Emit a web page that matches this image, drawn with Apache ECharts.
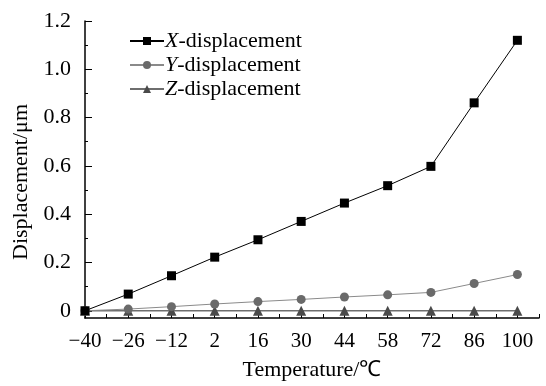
<!DOCTYPE html>
<html>
<head>
<meta charset="utf-8">
<script src="https://cdn.jsdelivr.net/npm/echarts@6/dist/echarts.min.js"></script>
<style>
  html, body { margin: 0; padding: 0; background: #fff; }
  #chart { width: 546px; height: 386px; }
</style>
</head>
<body>
<div id="chart"></div>
<script>
// temperatures (deg C) on the x axis
var temperatures = [-40, -26, -12, 2, 16, 30, 44, 58, 72, 86, 100];
// displacement in micrometres
var xDisp = [0, 0.069, 0.145, 0.222, 0.294, 0.370, 0.446, 0.518, 0.598, 0.861, 1.120];
var yDisp = [0, 0.007, 0.017, 0.028, 0.038, 0.047, 0.057, 0.066, 0.076, 0.113, 0.150];
var zDisp = [0, 0, 0, 0, 0, 0, 0, 0, 0, 0, 0];
var yLabels = [0, 0.2, 0.4, 0.6, 0.8, 1.0, 1.2];
var yMinorTicks = [0.1, 0.3, 0.5, 0.7, 0.9, 1.1];

document.addEventListener("DOMContentLoaded", function () {
    var font = "'Liberation Serif', 'Times New Roman', serif";
    var chart = echarts.init(document.getElementById("chart"));

    function pairs(vals) {
        return temperatures.map(function (t, i) { return [t, vals[i]]; });
    }

    // ticks at every category and half way between them
    var xTicks = [];
    temperatures.forEach(function (t) { xTicks.push(t, t + 7); });

    var option = {
        animation: false,
        grid: { left: 85, right: 7, top: 21, bottom: 66 },
        legend: {
            left: 124,
            top: 25,
            orient: "vertical",
            itemWidth: 34,
            itemHeight: 10,
            itemGap: 2,
            itemStyle: { borderWidth: 0 },
            textStyle: {
                fontFamily: font, fontSize: 22, color: "#000", padding: [0, 0, 0, -4],
                rich: { i: { fontFamily: font, fontSize: 22, fontStyle: "italic", color: "#000" } }
            },
            formatter: function (name) {
                return "{i|" + name.charAt(0) + "}" + name.slice(1);
            },
            data: ["X-displacement", "Y-displacement", "Z-displacement"]
        },
        // y axis title drawn as text so it can sit a little below the middle
        graphic: [{
            type: "text",
            x: 21,
            y: 182,
            rotation: Math.PI / 2,
            style: {
                text: "Displacement/\u03bcm",
                font: "22px " + font,
                fill: "#000",
                align: "center",
                verticalAlign: "middle"
            }
        }],
        xAxis: {
            type: "value",
            min: -40,
            max: 107,
            name: "Temperature/\u2103",
            nameLocation: "middle",
            nameGap: 41,
            nameTextStyle: { fontFamily: font, fontSize: 22, color: "#000" },
            splitLine: { show: false },
            axisLine: { onZero: false, lineStyle: { color: "#000", width: 1.5 } },
            axisTick: { inside: true, length: 4, customValues: xTicks, lineStyle: { color: "#000" } },
            axisLabel: {
                customValues: temperatures,
                margin: 13,
                fontFamily: font, fontSize: 21, color: "#000",
                formatter: function (v) { return String(v).replace("-", "\u2212"); }
            }
        },
        yAxis: [{
            type: "value",
            min: -0.03,
            max: 1.2,
            splitLine: { show: false },
            axisLine: { show: true, onZero: false, lineStyle: { color: "#000", width: 1.5 } },
            axisTick: { inside: true, length: 7, customValues: yLabels, lineStyle: { color: "#000" } },
            axisLabel: {
                customValues: yLabels,
                margin: 14,
                fontFamily: font, fontSize: 22, color: "#000",
                formatter: function (v) { return v === 0 ? "0" : v.toFixed(1); }
            }
        }, {
            type: "value",
            position: "left",
            min: -0.03,
            max: 1.2,
            splitLine: { show: false },
            axisLine: { show: false, onZero: false },
            axisTick: { show: true, inside: true, length: 3, customValues: yMinorTicks, lineStyle: { color: "#000" } },
            axisLabel: { show: false }
        }],
        series: [{
            name: "Z-displacement",
            type: "line",
            data: pairs(zDisp),
            symbol: "triangle",
            symbolSize: 10,
            z: 2,
            lineStyle: { color: "#6e6e6e", width: 1.5 },
            itemStyle: { color: "#4a4a4a" }
        }, {
            name: "Y-displacement",
            type: "line",
            data: pairs(yDisp),
            symbol: "circle",
            symbolSize: 9,
            z: 3,
            lineStyle: { color: "#8a8a8a", width: 1 },
            itemStyle: { color: "#6a6a6a" }
        }, {
            name: "X-displacement",
            type: "line",
            data: pairs(xDisp),
            symbol: "rect",
            symbolSize: 9,
            z: 4,
            lineStyle: { color: "#000", width: 1 },
            itemStyle: { color: "#000" }
        }]
    };

    chart.setOption(option);
});
</script>
</body>
</html>
